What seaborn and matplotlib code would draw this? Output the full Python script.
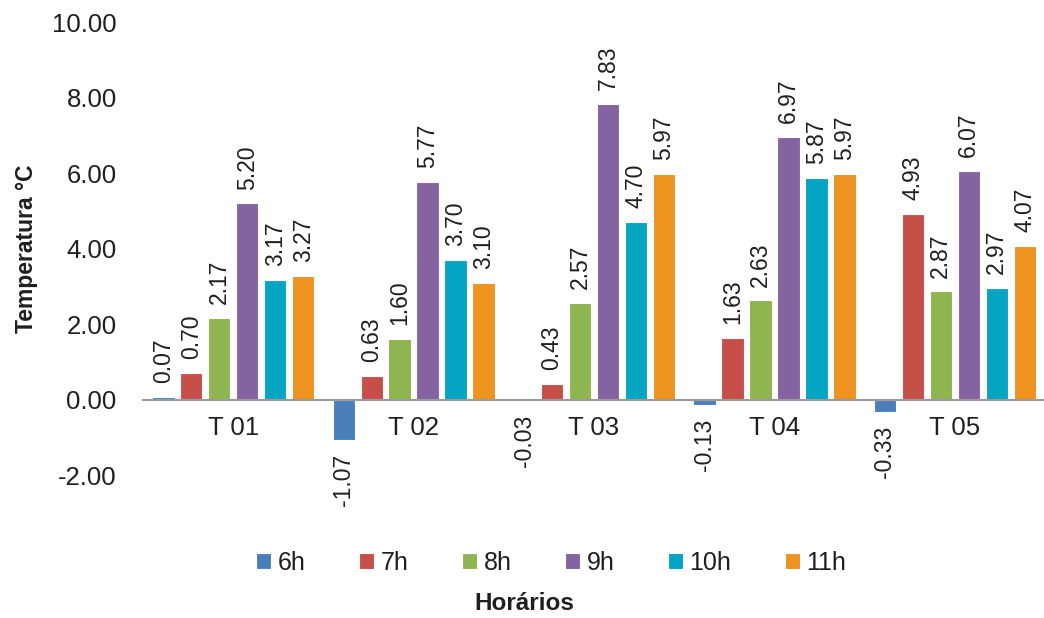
import numpy as np
import pandas as pd
import matplotlib
matplotlib.use("Agg")
import matplotlib.pyplot as plt
import seaborn as sns

# Treatments, hourly readings and the temperature difference for each
tratamentos = ["T 01", "T 02", "T 03", "T 04", "T 05"]
horarios = ["6h", "7h", "8h", "9h", "10h", "11h"]

t01 = [0.07, 0.70, 2.17, 5.20, 3.17, 3.27]
t02 = [-1.07, 0.63, 1.60, 5.77, 3.70, 3.10]
t03 = [-0.03, 0.43, 2.57, 7.83, 4.70, 5.97]
t04 = [-0.13, 1.63, 2.63, 6.97, 5.87, 5.97]
t05 = [-0.33, 4.93, 2.87, 6.07, 2.97, 4.07]

y_ticks = [-2, 0, 2, 4, 6, 8, 10]

cores = ["#4A7EBB", "#C64F4A", "#8FB551", "#8562A0", "#04A5C2", "#EE9220"]

rows = []
for trat, vals in zip(tratamentos, [t01, t02, t03, t04, t05]):
    for h, v in zip(horarios, vals):
        rows.append({"Tratamento": trat, "Horário": h, "Temperatura": v})
df = pd.DataFrame(rows)

sns.set_theme(style="white")
plt.rcParams["font.family"] = ["Liberation Sans", "DejaVu Sans"]
texto = "#1f1f1f"

fig = plt.figure(figsize=(10.44, 6.18), dpi=100)
ax = fig.add_axes([0.137, 0.231, 0.864, 0.733])

sns.barplot(
    data=df, x="Tratamento", y="Temperatura", hue="Horário",
    order=tratamentos, hue_order=horarios, palette=cores, saturation=1,
    width=0.93, gap=0.2, edgecolor="white", linewidth=0.8,
    errorbar=None, legend=True, ax=ax,
)

for cont in ax.containers:
    ax.bar_label(cont, fmt="%.2f", rotation=90, padding=10,
                 fontsize=16.5, color=texto)

ax.set_ylim(-2, 10)
ax.set_xlim(-0.5, len(tratamentos) - 0.5)
ax.set_yticks(y_ticks)
ax.set_yticklabels([f"{v:.2f}" for v in y_ticks])

for s in ["top", "right", "left"]:
    ax.spines[s].set_visible(False)
ax.spines["bottom"].set_position(("data", 0))
ax.spines["bottom"].set_color("#9a9a9a")
ax.spines["bottom"].set_linewidth(1.5)

ax.tick_params(axis="y", length=0, pad=19, labelsize=18.5, labelcolor=texto)
ax.tick_params(axis="x", length=0, pad=12, labelsize=18.5, labelcolor=texto)

ax.set_xlabel("")
ax.set_ylabel("Temperatura °C", fontsize=16.5, fontweight="bold",
              color=texto, labelpad=10)

handles, labels = ax.get_legend_handles_labels()
ax.legend_.remove()
fig.legend(handles, labels, loc="center", bbox_to_anchor=(0.528, 0.089),
           ncol=6, frameon=False, fontsize=18, handlelength=0.6,
           handleheight=0.6, handletextpad=0.25, columnspacing=2.15,
           labelcolor=texto)

fig.text(0.502, 0.024, "Horários", ha="center", va="center",
         fontsize=17.5, fontweight="bold", color=texto)

fig.savefig("out.png", dpi=100)
